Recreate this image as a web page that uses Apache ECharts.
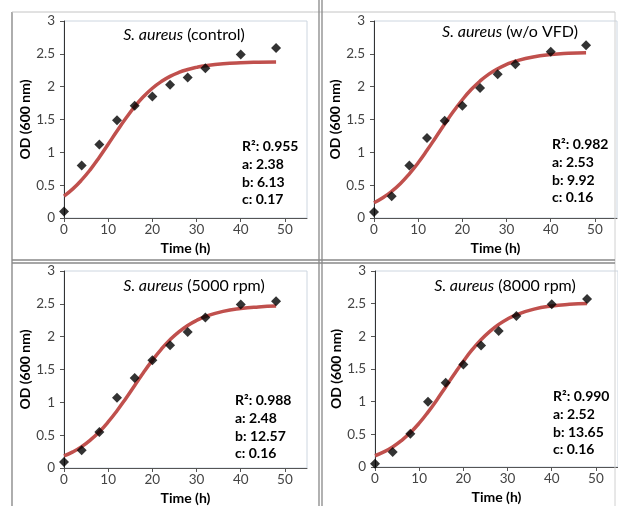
<!DOCTYPE html>
<html>
<head>
<meta charset="utf-8">
<script src="https://cdn.jsdelivr.net/npm/echarts@6/dist/echarts.min.js"></script>
<style>
html,body{margin:0;padding:0;background:#fff;}
#chart{width:618px;height:506px;}
</style>
</head>
<body>
<div id="chart"></div>
<script>
// ---- data ----
const timeH = [0, 4, 8, 12, 16, 20, 24, 28, 32, 40, 48];
const odControl = [0.10, 0.80, 1.12, 1.49, 1.71, 1.85, 2.03, 2.14, 2.28, 2.49, 2.59];
const odNoVFD   = [0.09, 0.33, 0.80, 1.22, 1.48, 1.71, 1.98, 2.19, 2.34, 2.53, 2.63];
const od5000    = [0.09, 0.27, 0.55, 1.07, 1.37, 1.64, 1.87, 2.07, 2.29, 2.49, 2.54];
const od8000    = [0.05, 0.23, 0.51, 1.00, 1.29, 1.57, 1.86, 2.08, 2.31, 2.49, 2.57];

const fitTime = [0, 2, 4, 6, 8, 10, 12, 14, 16, 18, 20, 22, 24, 26, 28, 30, 32, 36, 40, 44, 48];
const fitControl = [0.334, 0.444, 0.580, 0.741, 0.925, 1.123, 1.324, 1.518, 1.695, 1.849, 1.976, 2.077, 2.157, 2.217, 2.261, 2.294, 2.318, 2.348, 2.364, 2.372, 2.376];
const fitNoVFD   = [0.232, 0.308, 0.406, 0.527, 0.673, 0.842, 1.031, 1.231, 1.432, 1.625, 1.801, 1.956, 2.085, 2.191, 2.274, 2.339, 2.388, 2.453, 2.489, 2.508, 2.518];
const fit5000    = [0.183, 0.245, 0.325, 0.427, 0.552, 0.701, 0.872, 1.060, 1.258, 1.455, 1.639, 1.808, 1.953, 2.074, 2.170, 2.247, 2.307, 2.385, 2.429, 2.453, 2.466];
const fit8000    = [0.172, 0.231, 0.307, 0.405, 0.526, 0.671, 0.840, 1.027, 1.226, 1.427, 1.618, 1.795, 1.948, 2.077, 2.182, 2.266, 2.330, 2.416, 2.464, 2.490, 2.504];

const panelNames = ['(control)', '(w/o VFD)', '(5000 rpm)', '(8000 rpm)'];
const speciesName = 'S. aureus';
const statR2 = ['0.955', '0.982', '0.988', '0.990'];
const statA  = ['2.38', '2.53', '2.48', '2.52'];
const statB  = ['6.13', '9.92', '12.57', '13.65'];
const statC  = ['0.17', '0.16', '0.16', '0.16'];
const yTickMax = 3, yTickStep = 0.5;
const xTickMax = 55, xTickStep = 10;
const xAxisTitle = 'Time (h)';
const yAxisTitle = 'OD (600 nm)';

// ---- layout ----
const FONT = 'Lato, "Liberation Sans", sans-serif';
const grids = [
  {left: 64,  top: 21,  width: 243, height: 197},
  {left: 374, top: 21,  width: 243, height: 197},
  {left: 64,  top: 271, width: 243, height: 198},
  {left: 375, top: 271, width: 243, height: 196}
];
const titlePos = [[184, 27], [510, 24], [194, 278], [505, 278]];
const statPos = [[242, 138], [552, 136], [235, 392], [553, 388]];

const obs = [odControl, odNoVFD, od5000, od8000];
const fits = [fitControl, fitNoVFD, fit5000, fit8000];

const option = {
  animation: false,
  backgroundColor: '#fff',
  grid: grids.map(g => Object.assign({show: true, borderColor: '#cdd6e0', borderWidth: 1, backgroundColor: 'transparent'}, g)),
  title: panelNames.map((n, i) => ({
    text: '{it|' + speciesName + '} ' + n,
    left: titlePos[i][0], top: titlePos[i][1], textAlign: 'center', padding: 0,
    textStyle: {fontFamily: FONT, fontSize: 16, fontWeight: 'normal', color: '#000',
      rich: {it: {fontFamily: FONT, fontSize: 16, fontStyle: 'italic', color: '#000'}}}
  })),
  xAxis: grids.map((g, i) => ({
    gridIndex: i, type: 'value', min: 0, max: xTickMax, interval: xTickStep,
    name: xAxisTitle, nameLocation: 'middle', nameGap: 23,
    nameTextStyle: {fontFamily: FONT, fontSize: 14, fontWeight: 'bold', color: '#000'},
    axisLine: {show: true, lineStyle: {color: '#555', width: 1}},
    axisTick: {show: true, inside: false, length: 4, lineStyle: {color: '#555'}},
    axisLabel: {fontFamily: FONT, fontSize: 13.5, color: '#444', margin: 5, showMaxLabel: false},
    splitLine: {show: false}
  })),
  yAxis: grids.map((g, i) => ({
    gridIndex: i, type: 'value', min: 0, max: yTickMax, interval: yTickStep,
    name: yAxisTitle, nameLocation: 'middle', nameGap: 32,
    nameTextStyle: {fontFamily: FONT, fontSize: 14, fontWeight: 'bold', color: '#000'},
    axisLine: {show: true, lineStyle: {color: '#333', width: 1}},
    axisTick: {show: true, inside: false, length: 4, lineStyle: {color: '#555'}},
    axisLabel: {fontFamily: FONT, fontSize: 13.5, color: '#444', margin: 9},
    splitLine: {show: false}
  })),
  series: [],
  graphic: []
};

for (let i = 0; i < 4; i++) {
  option.series.push({
    type: 'line', xAxisIndex: i, yAxisIndex: i, smooth: true, symbol: 'none',
    lineStyle: {color: '#c0504d', width: 3.5}, z: 2,
    data: fitTime.map((t, k) => [t, fits[i][k]])
  });
  option.series.push({
    type: 'scatter', xAxisIndex: i, yAxisIndex: i, symbol: 'diamond', symbolSize: 10,
    itemStyle: {color: '#000'}, z: 3,
    data: timeH.map((t, k) => [t, obs[i][k]])
  });
  option.graphic.push({
    type: 'text', x: statPos[i][0], y: statPos[i][1], z: 10,
    style: {
      text: 'R²: ' + statR2[i] + '\na: ' + statA[i] + '\nb: ' + statB[i] + '\nc: ' + statC[i],
      font: 'bold 14px ' + FONT, fill: '#000', lineHeight: 17.6
    }
  });
}

// panel frames
const frameLines = [
  {x1: 12, y1: 12, x2: 12, y2: 506, c: '#777', w: 1.2},
  {x1: 12, y1: 12, x2: 615, y2: 12, c: '#c4c4c4', w: 1},
  {x1: 615, y1: 12, x2: 615, y2: 506, c: '#d0d0d0', w: 1},
  {x1: 319, y1: 0, x2: 319, y2: 506, c: '#888', w: 1.3},
  {x1: 322, y1: 0, x2: 322, y2: 506, c: '#888', w: 1.3},
  {x1: 12, y1: 260, x2: 615, y2: 260, c: '#888', w: 1.3},
  {x1: 12, y1: 263, x2: 615, y2: 263, c: '#888', w: 1.3}
];
frameLines.forEach(l => option.graphic.push({
  type: 'line', z: 5, silent: true,
  shape: {x1: l.x1, y1: l.y1, x2: l.x2, y2: l.y2},
  style: {stroke: l.c, lineWidth: l.w}
}));

const chart = echarts.init(document.getElementById('chart'), null, {renderer: 'canvas'});
chart.setOption(option);
</script>
</body>
</html>
